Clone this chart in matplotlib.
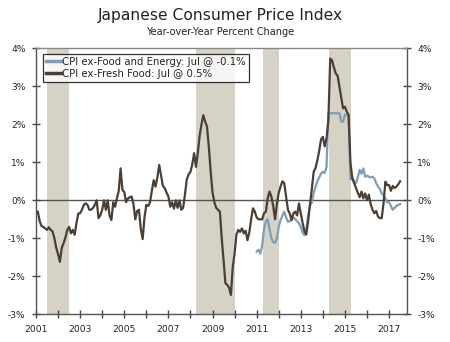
import numpy as np
import matplotlib
matplotlib.use("Agg")
import matplotlib.pyplot as plt
from matplotlib.ticker import FuncFormatter, MultipleLocator

# CPI ex-fresh food, y/y %, monthly from Jan 2001 to Jul 2017
ex_fresh_food = [
    -0.30, -0.30, -0.55, -0.68, -0.70, -0.74, -0.78, -0.71, -0.78, -0.82, -1.00, -1.25,  # 2001
    -1.42, -1.62, -1.25, -1.13, -0.98, -0.78, -0.70, -0.87, -0.78, -0.91, -0.60, -0.35,  # 2002
    -0.34, -0.25, -0.12, -0.08, -0.12, -0.25, -0.25, -0.20, -0.12, 0.00, -0.47, -0.39,   # 2003
    -0.25, 0.00, -0.25, 0.00, -0.40, -0.52, -0.05, -0.17, 0.05, 0.25, 0.84, 0.27,        # 2004
    0.22, -0.05, 0.05, 0.08, 0.10, -0.10, -0.50, -0.28, -0.25, -0.75, -1.02, -0.45,      # 2005
    -0.12, -0.15, -0.05, 0.25, 0.53, 0.36, 0.60, 0.93, 0.65, 0.38, 0.32, 0.20,           # 2006
    0.10, -0.17, -0.05, -0.22, 0.00, -0.20, 0.00, -0.25, -0.20, 0.15, 0.55, 0.68,        # 2007
    0.75, 0.95, 1.24, 0.88, 1.25, 1.70, 2.00, 2.24, 2.07, 1.94, 1.40, 0.75,              # 2008
    0.20, -0.05, -0.20, -0.25, -0.30, -1.00, -1.57, -2.18, -2.23, -2.30, -2.49, -1.75,   # 2009
    -1.40, -0.90, -0.78, -0.83, -0.74, -0.87, -0.80, -1.05, -0.85, -0.50, -0.21, -0.30,  # 2010
    -0.45, -0.50, -0.50, -0.50, -0.34, -0.30, 0.05, 0.23, 0.10, -0.15, -0.50, -0.10,     # 2011
    0.20, 0.36, 0.50, 0.45, 0.10, -0.25, -0.35, -0.52, -0.34, -0.30, -0.40, -0.08,       # 2012
    -0.35, -0.60, -0.82, -0.90, -0.55, -0.10, 0.30, 0.75, 0.85, 1.05, 1.30, 1.60,        # 2013
    1.67, 1.42, 1.63, 2.10, 3.73, 3.68, 3.50, 3.34, 3.28, 3.00, 2.70, 2.42,              # 2014
    2.46, 2.33, 2.25, 1.00, 0.58, 0.45, 0.33, 0.20, 0.08, 0.23, 0.05, 0.18,              # 2015
    0.00, 0.15, -0.10, -0.25, -0.34, -0.28, -0.43, -0.47, -0.47, -0.08, 0.49, 0.40,      # 2016
    0.40, 0.25, 0.38, 0.32, 0.36, 0.42, 0.50,                                            # 2017
]

# CPI ex-food and energy, y/y %, monthly from Jan 2011 to Jul 2017
ex_food_energy = [
    -1.35, -1.30, -1.40, -1.20, -0.75, -0.55, -0.50, -0.75, -1.00, -1.10, -1.12, -1.00,  # 2011
    -0.70, -0.52, -0.40, -0.30, -0.45, -0.56, -0.55, -0.50, -0.45, -0.50, -0.55, -0.60,  # 2012
    -0.70, -0.85, -0.92, -0.75, -0.40, -0.15, -0.05, 0.20, 0.35, 0.50, 0.60, 0.70,       # 2013
    0.75, 0.72, 0.88, 2.29, 2.29, 2.29, 2.29, 2.29, 2.29, 2.29, 2.07, 2.07,              # 2014
    2.25, 2.25, 2.20, 0.55, 0.60, 0.50, 0.45, 0.60, 0.80, 0.70, 0.84, 0.62,              # 2015
    0.65, 0.62, 0.60, 0.62, 0.58, 0.45, 0.36, 0.30, 0.18, 0.14, 0.05, -0.05,             # 2016
    -0.05, -0.15, -0.25, -0.20, -0.15, -0.12, -0.10,                                     # 2017
]

# recession bands (decimal years)
recessions = [(2001.5, 2002.5), (2008.26, 2010.0), (2011.29, 2012.0), (2014.29, 2015.27)]

year_ticks = list(range(2001, 2018))
year_labels = [str(y) if y % 2 == 1 else "" for y in year_ticks]

x_fresh = 2001 + np.arange(len(ex_fresh_food)) / 12
x_core = 2011 + np.arange(len(ex_food_energy)) / 12

brown = "#4b3f35"
blue = "#7f9db6"
shade = "#d6d2c5"
txt = "#222222"

fig = plt.figure(figsize=(4.5, 3.42), dpi=100)
ax = fig.add_axes([0.08, 0.081, 0.8238, 0.7778])

for start, end in recessions:
    ax.axvspan(start, end, color=shade, lw=0, zorder=0)

ax.axhline(0, color="#555555", lw=1.0, zorder=1)
ax.plot(x_core, ex_food_energy, color=blue, lw=1.6, zorder=2,
        label="CPI ex-Food and Energy: Jul @ -0.1%")
ax.plot(x_fresh, ex_fresh_food, color=brown, lw=1.6, zorder=3,
        label="CPI ex-Fresh Food: Jul @ 0.5%")

ax.set_xlim(2001, 2017.8)
ax.set_ylim(-3, 4)
ax.set_xticks(year_ticks)
ax.set_xticklabels(year_labels)
ax.yaxis.set_major_locator(MultipleLocator(1))
ax.yaxis.set_major_formatter(FuncFormatter(lambda v, p: f"{v:.0f}%"))

ax.tick_params(axis="both", direction="inout", length=6, width=1.0,
               color="#444444", labelsize=6.6, labelcolor=txt, pad=4.5)
ax.tick_params(axis="y", right=True, labelright=True)

for side in ["left", "right", "bottom"]:
    ax.spines[side].set_color("#555555")
    ax.spines[side].set_linewidth(1.0)
ax.spines["top"].set_color("#888888")
ax.spines["top"].set_linewidth(1.0)

leg = ax.legend(loc="upper left", bbox_to_anchor=(0.018, 0.979), borderaxespad=0,
                fontsize=7.3, frameon=True, fancybox=False, handlelength=1.5,
                handletextpad=0.1, borderpad=0.3, labelspacing=0.2)
leg.get_frame().set_edgecolor("black")
leg.get_frame().set_linewidth(0.9)
for line in leg.get_lines():
    line.set_linewidth(2.5)
for t in leg.get_texts():
    t.set_color(txt)

fig.text(0.49, 0.955, "Japanese Consumer Price Index", ha="center", va="center",
         fontsize=11.2, color=txt)
fig.text(0.49, 0.905, "Year-over-Year Percent Change", ha="center", va="center",
         fontsize=7, color=txt)

fig.savefig("out.png", dpi=100)
